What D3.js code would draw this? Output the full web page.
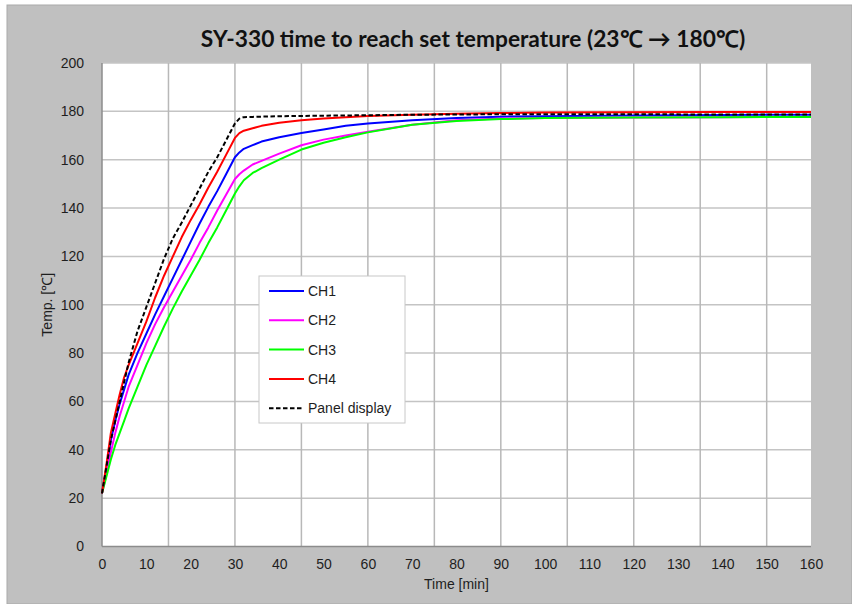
<!DOCTYPE html>
<html>
<head>
<meta charset="utf-8">
<script src="https://cdn.jsdelivr.net/npm/d3@7"></script>
<style>
  body { margin: 0; background: #fff; }
  svg text { font-family: "Liberation Sans", Arial, sans-serif; }
</style>
</head>
<body>
<div id="chart"></div>
<script>
// Sample data (minutes / degC)
const times = [0, 1, 2, 3, 4, 5, 6, 8, 10, 12, 14, 16, 18, 20, 22, 24, 26, 28, 30, 31, 32, 34, 36, 40, 45, 50, 55, 60, 70, 80, 90, 100, 120, 140, 160];
const ch1 = [22, 32, 44, 52, 59, 65, 71, 80, 88, 96, 103.5, 111, 118.5, 126, 133.5, 140.5, 147, 154, 161, 163, 164.5, 166, 167.5, 169.3, 171, 172.5, 174, 175, 176.3, 177.2, 177.8, 178, 178.3, 178.5, 178.6];
const ch2 = [22, 30, 39, 47, 54, 60, 66, 75, 84, 92, 99, 105.5, 112, 118.5, 125.5, 132, 139, 145.5, 152, 154, 155.5, 158, 159.5, 162.5, 166, 168.3, 170, 171.6, 174.5, 176.3, 177, 177.3, 177.5, 177.6, 177.7];
const ch3 = [22, 29, 36, 42, 47, 52, 57, 66, 75, 83, 91, 98.5, 105.5, 112, 118.5, 125.5, 132, 139, 146, 149, 151.5, 154.5, 156.5, 160, 164.2, 167, 169.3, 171.3, 174.5, 176, 176.8, 177.2, 177.5, 177.6, 177.7];
const ch4 = [22, 34, 47, 55, 63, 70, 75, 84, 93, 103, 112, 120, 128, 135, 141.5, 148.5, 155, 162, 169, 171, 172, 173, 174, 175.3, 176.3, 177, 177.6, 178.1, 178.6, 179, 179.3, 179.5, 179.6, 179.7, 179.7];
const panel = [22, 33, 44, 52, 60, 68, 76, 89, 99, 109, 119, 127.5, 134, 141, 148, 155, 161, 168, 175, 177, 177.6, 177.7, 177.8, 178, 178.1, 178.2, 178.3, 178.4, 178.6, 178.7, 178.8, 178.8, 178.8, 178.7, 178.7];

const seriesNames = ["CH1", "CH2", "CH3", "CH4", "Panel display"];
const seriesValues = [ch1, ch2, ch3, ch4, panel];
const seriesColors = ["#0000ff", "#ff00ff", "#00ff00", "#ff0000", "#000000"];

const xTicks = d3.range(0, 161, 10);
const xGrid = d3.range(15, 160, 15);
const yTicks = d3.range(0, 201, 20);

const titleText = "SY-330 time to reach set temperature (23\u2103 \u2192 180\u2103)";

// Dimensions
const width = 852, height = 604;
const margin = { top: 63, right: 41, bottom: 57.5, left: 102 };
const plotW = width - margin.left - margin.right;
const plotH = height - margin.top - margin.bottom;

const svg = d3.select("#chart")
    .append("svg")
    .attr("width", width)
    .attr("height", height);

// gray chart background
svg.append("rect")
    .attr("x", 7).attr("y", 5)
    .attr("width", width - 7).attr("height", height - 5)
    .attr("fill", "#c0c0c0")
    .attr("stroke", "#a9a9a9");

// title, fitted to the reference width
const title = svg.append("text")
    .attr("x", 473)
    .attr("y", 47)
    .attr("text-anchor", "middle")
    .style("font-family", "Lato, 'Open Sans', sans-serif")
    .style("font-weight", "700")
    .style("font-size", "22px")
    .style("fill", "#111")
    .text(titleText);
const tl = title.node().getComputedTextLength();
title.style("font-size", (22 * 544 / tl) + "px");

const g = svg.append("g")
    .attr("transform", `translate(${margin.left},${margin.top})`);

// Scales
const x = d3.scaleLinear().domain([0, 160]).range([0, plotW]);
const y = d3.scaleLinear().domain([0, 200]).range([plotH, 0]);

// plot area
g.append("rect")
    .attr("width", plotW).attr("height", plotH)
    .attr("fill", "#fff");

// gridlines
g.append("g")
    .selectAll("line")
    .data(yTicks.slice(1))
    .enter()
    .append("line")
    .attr("x1", 0).attr("x2", plotW)
    .attr("y1", d => y(d)).attr("y2", d => y(d))
    .attr("stroke", "#c4c4c4")
    .attr("stroke-width", 1.5);

g.append("g")
    .selectAll("line")
    .data(xGrid)
    .enter()
    .append("line")
    .attr("x1", d => x(d)).attr("x2", d => x(d))
    .attr("y1", 0).attr("y2", plotH)
    .attr("stroke", "#b8b8b8")
    .attr("stroke-width", 1.5);

// Axes
const xAxis = g.append("g")
    .attr("transform", `translate(0,${plotH})`)
    .call(d3.axisBottom(x).tickValues(xTicks).tickSize(0).tickPadding(12.5));
const yAxis = g.append("g")
    .call(d3.axisLeft(y).tickValues(yTicks).tickSize(0).tickPadding(18));

[xAxis, yAxis].forEach(a => {
    a.select(".domain").remove();
    a.selectAll("text")
        .style("font-size", "14px")
        .style("fill", "#1e1e1e");
});

g.append("line")
    .attr("x1", 0).attr("x2", plotW)
    .attr("y1", plotH).attr("y2", plotH)
    .attr("stroke", "#8c8c8c").attr("stroke-width", 1.5);
g.append("line")
    .attr("x1", 0).attr("x2", 0)
    .attr("y1", 0).attr("y2", plotH)
    .attr("stroke", "#8c8c8c").attr("stroke-width", 1.5);

// axis titles
svg.append("text")
    .attr("x", margin.left + plotW / 2)
    .attr("y", 589)
    .attr("text-anchor", "middle")
    .style("font-size", "14px")
    .style("fill", "#1e1e1e")
    .text("Time [min]");

svg.append("text")
    .attr("transform", `translate(52,${margin.top + plotH / 2}) rotate(-90)`)
    .attr("text-anchor", "middle")
    .style("font-size", "14px")
    .style("fill", "#1e1e1e")
    .text("Temp. [\u2103]");

// Lines
const line = d3.line()
    .x((d, i) => x(times[i]))
    .y(d => y(d));

seriesValues.forEach((vals, i) => {
    g.append("path")
        .datum(vals)
        .attr("fill", "none")
        .attr("stroke", seriesColors[i])
        .attr("stroke-width", 2)
        .attr("stroke-linejoin", "round")
        .attr("stroke-dasharray", i === 4 ? "4.5,2.5" : null)
        .attr("d", line);
});

// Legend
const legend = svg.append("g").attr("transform", "translate(259,276)");
legend.append("rect")
    .attr("width", 146).attr("height", 147)
    .attr("fill", "#fff")
    .attr("stroke", "#c8c8c8");

seriesNames.forEach((name, i) => {
    const ly = 15 + i * 29.3;
    legend.append("line")
        .attr("x1", 10).attr("x2", 45)
        .attr("y1", ly).attr("y2", ly)
        .attr("stroke", seriesColors[i])
        .attr("stroke-width", 2)
        .attr("stroke-dasharray", i === 4 ? "4.5,2.5" : null);
    legend.append("text")
        .attr("x", 49)
        .attr("y", ly)
        .attr("dy", "0.35em")
        .style("font-size", "14px")
        .style("fill", "#1e1e1e")
        .text(name);
});
</script>
</body>
</html>
